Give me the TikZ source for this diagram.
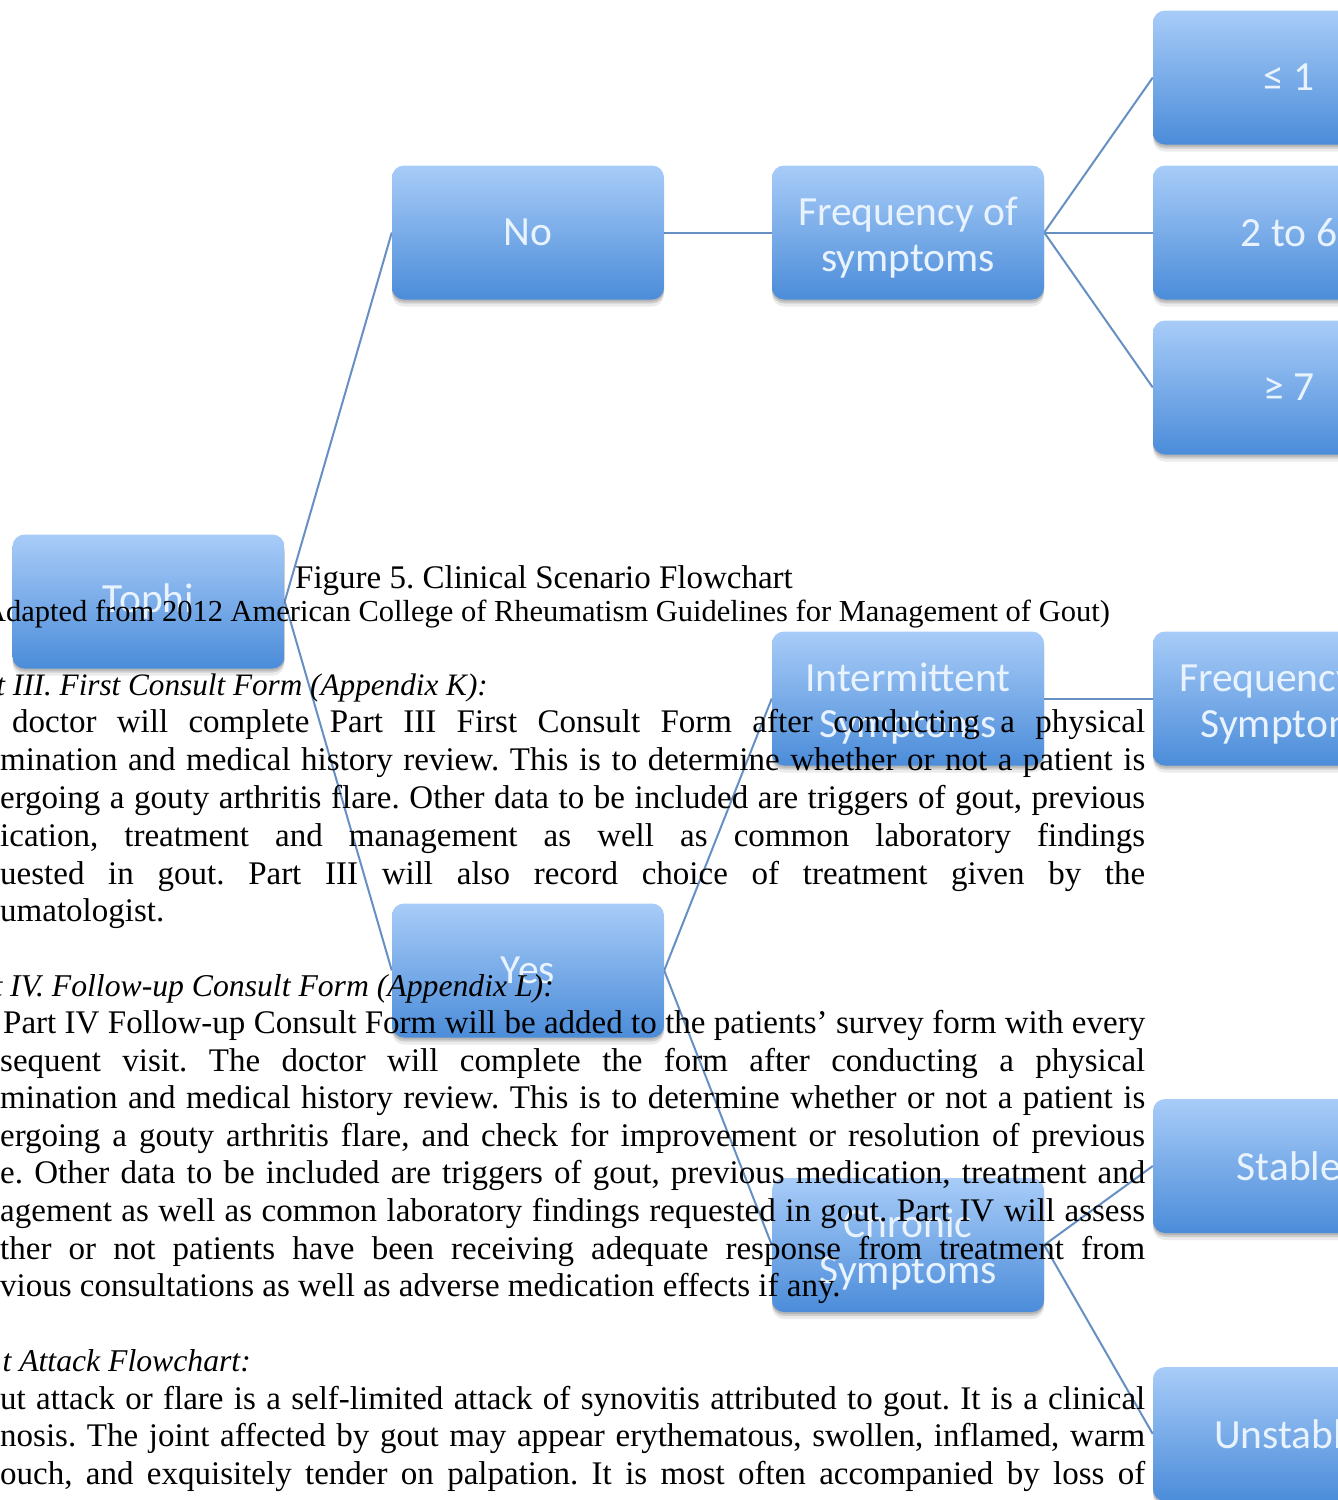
\documentclass[tikz,border=0pt]{standalone}
\usepackage{fontspec}
\setmainfont{Liberation Serif}
\newfontfamily\boxfont{Carlito}
\usetikzlibrary{shadows,backgrounds}
\definecolor{boxtop}{HTML}{A8CCF8}
\definecolor{boxbot}{HTML}{4B8CD9}
\definecolor{boxtext}{HTML}{E8F3FF}
\definecolor{linkcol}{HTML}{6690C3}
\newcommand{\jline}[4]{\node[doc] (#1) at (#2,#3) {\makebox[\dimexpr1145pt-#2pt\relax][s]{#4}};}
\newcommand{\tworow}[2]{\rule{0pt}{38pt}#1\\#2}
\begin{document}
\frenchspacing
\begin{tikzpicture}[x=1pt,y=-1pt,
  fbox/.style={rounded corners=12pt, top color=boxtop, bottom color=boxbot,
    minimum width=272pt, minimum height=134pt, inner sep=0pt, align=center,
    text=boxtext, font=\boxfont\fontsize{41.5}{46}\selectfont,
    general shadow={shadow xshift=0pt, shadow yshift=-7pt, opacity=0.08, fill=black},
    general shadow={shadow xshift=0pt, shadow yshift=-4pt, opacity=0.12, fill=black},
    general shadow={shadow xshift=0pt, shadow yshift=-2pt, opacity=0.12, fill=black}},
  link/.style={draw=linkcol, line width=2pt},
  doc/.style={inner sep=0pt, anchor=base west, font=\fontsize{33}{37.5}\selectfont, text=black},
  doce/.style={doc, anchor=base east, font=\fontsize{30.5}{35}\selectfont},
  doci/.style={doc, anchor=base east, font=\fontsize{31.7}{37.5}\selectfont\itshape}]
\useasboundingbox (0,0) rectangle (1338,1500);

% boxes
\node[fbox] (tophi) at (148.5,601.5) {Tophi};
\node[fbox] (no) at (528,232.5) {No};
\node[fbox] (yes) at (528,970.5) {Yes};
\node[fbox] (freqa) at (908,232.5) {\tworow{Frequency of}{symptoms}};
\node[fbox] (le1) at (1289,77.5) {≤ 1};
\node[fbox] (two6) at (1289,232.5) {2 to 6};
\node[fbox] (ge7) at (1289,387.5) {≥ 7};
\node[fbox] (inter) at (908,698.5) {\tworow{Intermittent}{Symptoms}};
\node[fbox] (freqb) at (1289,698.5) {\tworow{Frequency of}{Symptoms}};
\node[fbox] (chron) at (908,1245) {\tworow{Chronic}{Symptoms}};
\node[fbox] (stable) at (1289,1166) {Stable};
\node[fbox] (unstable) at (1289,1434) {Unstable};

% connectors
\begin{pgfonlayer}{background}
\draw[link] (tophi.east) -- (no.west);
\draw[link] (tophi.east) -- (yes.west);
\draw[link] (no.east) -- (freqa.west);
\draw[link] (freqa.east) -- (le1.west);
\draw[link] (freqa.east) -- (two6.west);
\draw[link] (freqa.east) -- (ge7.west);
\draw[link] (yes.east) -- (inter.west);
\draw[link] (yes.east) -- (chron.west);
\draw[link] (inter.east) -- (freqb.west);
\draw[link] (chron.east) -- (stable.west);
\draw[link] (chron.east) -- (unstable.west);
\end{pgfonlayer}

% document text
\node[doc] (cap1) at (295,588) {Figure 5. Clinical Scenario Flowchart};
\node[doce] (cap2) at (1110,621) {Adapted from 2012 American College of Rheumatism Guidelines for Management of Gout)};

\node[doci, font=\fontsize{31.2}{37.5}\selectfont\itshape] (h1) at (488,695) {t III. First Consult Form (Appendix K):};
\jline{p1a}{12}{732}{doctor will complete Part III First Consult Form after conducting a physical}
\jline{p1b}{0}{770}{mination and medical history review. This is to determine whether or not a patient is}
\jline{p1c}{0}{808}{ergoing a gouty arthritis flare. Other data to be included are triggers of gout, previous}
\jline{p1d}{0}{846}{ication, treatment and management as well as common laboratory findings}
\jline{p1e}{0}{884}{uested in gout. Part III will also record choice of treatment given by the}
\node[doc] (p1f) at (0,921) {umatologist.};

\node[doci] (h2) at (554,996) {t IV. Follow-up Consult Form (Appendix L):};
\jline{p2a}{3}{1033}{Part IV Follow-up Consult Form will be added to the patients’ survey form with every}
\jline{p2b}{0}{1071}{sequent visit. The doctor will complete the form after conducting a physical}
\jline{p2c}{0}{1108}{mination and medical history review. This is to determine whether or not a patient is}
\jline{p2d}{0}{1146}{ergoing a gouty arthritis flare, and check for improvement or resolution of previous}
\jline{p2e}{0}{1183}{e. Other data to be included are triggers of gout, previous medication, treatment and}
\jline{p2f}{0}{1221}{agement as well as common laboratory findings requested in gout. Part IV will assess}
\jline{p2g}{0}{1259}{ther or not patients have been receiving adequate response from treatment from}
\node[doc] (p2h) at (0,1296) {vious consultations as well as adverse medication effects if any.};

\node[doci] (h3) at (251,1371) {t Attack Flowchart:};
\jline{p3a}{0}{1409}{ut attack or flare is a self-limited attack of synovitis attributed to gout. It is a clinical}
\jline{p3b}{0}{1446}{nosis. The joint affected by gout may appear erythematous, swollen, inflamed, warm}
\jline{p3c}{0}{1484}{ouch, and exquisitely tender on palpation. It is most often accompanied by loss of}
\end{tikzpicture}
\end{document}
